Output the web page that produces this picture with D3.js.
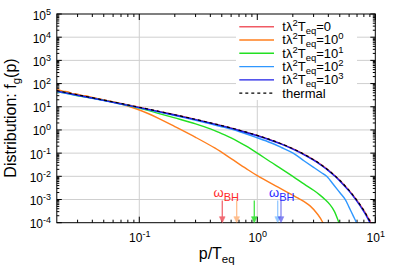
<!DOCTYPE html>
<html><head><meta charset="utf-8">
<script src="https://cdn.jsdelivr.net/npm/d3@7"></script>
<style>
body{margin:0;background:#fff}
svg{display:block}
text{font-family:"Liberation Sans",Arial,Helvetica,sans-serif;fill:#000}
</style>
</head><body>
<svg id="chart" width="399" height="279"></svg>
<script>
// ---------------- data ----------------
const pThermal = [0.02,0.03,0.05,0.07,0.1,0.15,0.2,0.3,0.4,0.5,0.7,1,1.3,1.6,2,2.5,3,3.5,4,4.5,5,6,7,8,9,9.5,10];
const fThermal = [49.5,32.8,19.5,13.8,9.51,6.18,4.52,2.86,2.03,1.54,0.986,0.582,0.375,0.253,0.156,0.0894,0.0524,0.0311,0.0187,0.0112,0.00678,0.00248,0.000913,0.000336,0.000118,0.00007,0.000042];

const pRed = [0.02,0.03,0.05,0.07,0.1,0.15,0.2,0.3,0.4,0.5,0.7,1,1.3,1.6,2,2.5,3,3.5,4,4.5,5,6,7,8,9,9.5,10];
const fRed = [49.5,32.8,19.5,13.8,9.51,6.18,4.52,2.86,2.03,1.54,0.986,0.582,0.375,0.253,0.156,0.0894,0.0524,0.0311,0.0187,0.0112,0.00678,0.00248,0.000913,0.000336,0.000118,0.00007,0.000042];

const pOrange = [0.02,0.0225,0.025,0.0275,0.03,0.0325,0.035,0.04,0.05,0.07,0.095,0.12,0.15,0.2,0.3,0.439,0.6,0.8,1.0,1.5,2.22,2.8,3.27,3.6,3.8];
const fOrange = [56,47,44,36,35,30.5,30,25,19.5,13.2,8.0,5.0,2.95,1.4,0.48,0.163,0.058,0.022,0.0107,0.0034,0.00114,0.00053,0.00022,0.0001,0.00005];

const pGreen = [0.02,0.0225,0.025,0.03,0.035,0.04,0.05,0.07,0.1,0.15,0.2,0.3,0.4,0.483,0.6,0.7,0.8,1.0,1.28,1.6,2.0,2.5,3.0,3.4,3.75,4.13,4.5,4.92,5.2];
const fGreen = [44,41,37,30,26.5,23.5,18.8,13.2,8.8,4.95,3.3,1.83,1.12,0.743,0.452,0.30,0.204,0.1,0.0435,0.0211,0.01,0.0046,0.0025,0.00155,0.001,0.0006,0.00031,0.0001,0.00005];

const pLightBlue = [0.02,0.03,0.05,0.07,0.1,0.15,0.2,0.3,0.4,0.5,0.7,1,1.3,1.6,2.01,2.5,3,3.5,3.87,4.5,5,5.57,6,6.5,6.93,7.3];
const fLightBlue = [45,30.5,18.3,12.9,8.9,5.75,4.2,2.63,1.84,1.38,0.86,0.46,0.28,0.175,0.1,0.046,0.0245,0.0143,0.01,0.0039,0.002,0.001,0.00046,0.000197,0.0001,0.00005];

const pBlue = [0.02,0.03,0.05,0.07,0.1,0.15,0.2,0.3,0.4,0.5,0.7,1,1.3,1.6,2,2.5,3,3.5,4,4.5,5,6,7,8,9,9.5];
const fBlue = [47,31.5,18.8,13.3,9.2,6.0,4.4,2.78,1.97,1.49,0.95,0.56,0.36,0.243,0.149,0.085,0.0497,0.0294,0.0176,0.0105,0.00634,0.00229,0.00083,0.000298,0.000102,0.00006];

const legendMantissa = ["0","10","10","10","10"];
const legendExponent = ["","0","1","2","3"];
const omegaBH = [0.505,0.669,0.943,1.489,1.588];

const xTickValues = [0.1,1,10];
const xTickExp = ["-1","0","1"];
const yTickValues = [1e-4,1e-3,1e-2,1e-1,1e0,1e1,1e2,1e3,1e4,1e5];
const yTickExp = ["-4","-3","-2","-1","0","1","2","3","4","5"];

// ---------------- styles ----------------
const colors = ["#f05a64","#ff7f1e","#22e022","#2f97ff","#1e1ee6"];
const arrowOpacity = [0.9,0.5,0.85,0.5,0.55];
const L = 56.8, R = 375.3, T = 14, B = 222.7;

const svg = d3.select("#chart");
const x = d3.scaleLog().domain([0.02,10]).range([L,R]);
const y = d3.scaleLog().domain([1e-4,1e5]).range([B,T]);

// rich text as separate pieces: parts = [[text, size, baselineOffset], ...]
function rich(parent, x0, y0, parts, anchor, color){
  const g = parent.append("g");
  let cx = 0;
  parts.forEach(([s,size,off])=>{
    const t = g.append("text").attr("x",cx).attr("y",off).attr("font-size",size).text(s);
    if(color) t.style("fill",color);
    cx += t.node().getComputedTextLength();
  });
  let shift = 0;
  if(anchor==="middle") shift = -cx/2; else if(anchor==="end") shift = -cx;
  g.attr("transform",`translate(${x0+shift},${y0})`);
  return g;
}

// clip
svg.append("defs").append("clipPath").attr("id","clip")
  .append("rect").attr("x",L).attr("y",T).attr("width",R-L).attr("height",B-T);

// grid
const grid = svg.append("g").attr("stroke","#cfcfcf").attr("stroke-width",1);
yTickValues.slice(1,-1).forEach(v=>{
  grid.append("line").attr("x1",L).attr("x2",R).attr("y1",y(v)).attr("y2",y(v));
});
xTickValues.slice(0,-1).forEach(v=>{
  grid.append("line").attr("x1",x(v)).attr("x2",x(v)).attr("y1",T).attr("y2",B);
});

// legend background (hides grid)
svg.append("rect").attr("x",236).attr("y",17).attr("width",121).attr("height",83).attr("fill","#fff");

// minor ticks positions
function minors(lo, hi){
  const out=[];
  for(let e=Math.floor(Math.log10(lo)); e<=Math.ceil(Math.log10(hi)); e++){
    for(let m=2;m<=9;m++){const v=m*Math.pow(10,e); if(v>lo*1.0001 && v<hi*0.9999) out.push(v);}
  }
  return out;
}
const ticks = svg.append("g").attr("stroke","#000").attr("stroke-width",1);
minors(0.02,10).forEach(v=>{
  const px=x(v);
  ticks.append("line").attr("x1",px).attr("x2",px).attr("y1",B).attr("y2",B-3);
  ticks.append("line").attr("x1",px).attr("x2",px).attr("y1",T).attr("y2",T+3);
});
xTickValues.forEach(v=>{
  const px=x(v);
  ticks.append("line").attr("x1",px).attr("x2",px).attr("y1",B).attr("y2",B-6);
  ticks.append("line").attr("x1",px).attr("x2",px).attr("y1",T).attr("y2",T+6);
});
minors(1e-4,1e5).forEach(v=>{
  const py=y(v);
  ticks.append("line").attr("x1",L).attr("x2",L+2.5).attr("y1",py).attr("y2",py);
  ticks.append("line").attr("x1",R).attr("x2",R-2.5).attr("y1",py).attr("y2",py);
});
yTickValues.forEach(v=>{
  const py=y(v);
  ticks.append("line").attr("x1",L).attr("x2",L+5).attr("y1",py).attr("y2",py);
  ticks.append("line").attr("x1",R).attr("x2",R-5).attr("y1",py).attr("y2",py);
});

// curves
const line = d3.line().x(d=>x(d[0])).y(d=>y(d[1])).curve(d3.curveCatmullRom.alpha(0.5));
const zip = (a,b)=>a.map((v,i)=>[v,b[i]]);
const plot = svg.append("g").attr("clip-path","url(#clip)");
const series = [zip(pRed,fRed),zip(pOrange,fOrange),zip(pGreen,fGreen),zip(pLightBlue,fLightBlue),zip(pBlue,fBlue)];
series.forEach((s,i)=>{
  plot.append("path").attr("d",line(s)).attr("fill","none").attr("stroke",colors[i]).attr("stroke-width",1.4);
});
plot.append("path").attr("d",line(zip(pThermal,fThermal))).attr("fill","none")
  .attr("stroke","#000").attr("stroke-width",1.2).attr("stroke-dasharray","3,3");

// frame
svg.append("rect").attr("x",L).attr("y",T).attr("width",R-L).attr("height",B-T)
  .attr("fill","none").attr("stroke","#000").attr("stroke-width",1);

// omega_BH arrows
const arrows = svg.append("g");
omegaBH.forEach((v,i)=>{
  const px=x(v);
  const g=arrows.append("g").attr("opacity",arrowOpacity[i]);
  g.append("line").attr("x1",px).attr("x2",px).attr("y1",200.5).attr("y2",B-2)
    .attr("stroke",colors[i]).attr("stroke-width",1.3);
  g.append("path").attr("d",`M${px-2.8},${B-6} L${px},${B} L${px+2.8},${B-6} Z`)
    .attr("fill",colors[i]).attr("stroke",colors[i]).attr("stroke-width",0.6);
});
rich(svg, 213.5, 196.8, [["ω",13,0],["BH",11,4.5]], "start", "#ff2a2a");
rich(svg, 269, 196.8, [["ω",13,0],["BH",11,4.5]], "start", "#2a2aff");

// tick labels
yTickValues.forEach((v,i)=>{
  rich(svg, 51, y(v)+5.5, [["10",12,0],[yTickExp[i],9,-5]], "end");
});
xTickValues.forEach((v,i)=>{
  rich(svg, x(v)+0.5, 241.5, [["10",12,0],[xTickExp[i],9,-5]], "middle");
});

// axis titles
rich(svg, 216.7, 259.3, [["p/T",16,0],["eq",11.5,4]], "middle");
const yg = svg.append("g").attr("transform","translate(16,118) rotate(-90)");
rich(yg, 0, 0, [["Distribution: f",16,0],["g",11.5,4],["(p)",16,0]], "middle");

// legend
const rowY = i=>26.7+i*13.3;
const leg = svg.append("g");
legendMantissa.forEach((m,i)=>{
  const ry=rowY(i);
  leg.append("line").attr("x1",239.3).attr("x2",274).attr("y1",ry).attr("y2",ry)
    .attr("stroke",colors[i]).attr("stroke-width",1.4);
  const parts=[["tλ",13,0],["2",9.5,-5],["T",13,0],["eq",9.5,3],["="+m,13,0]];
  if(legendExponent[i]) parts.push([legendExponent[i],9.5,-5]);
  rich(leg, 282.3, ry+4.4, parts, "start");
});
{
  const ry=rowY(5);
  leg.append("line").attr("x1",239.3).attr("x2",274).attr("y1",ry).attr("y2",ry)
    .attr("stroke","#000").attr("stroke-width",1.2).attr("stroke-dasharray","3,3");
  leg.append("text").attr("x",282.3).attr("y",ry+4.4).attr("font-size",13).text("thermal");
}
</script>
</body></html>
